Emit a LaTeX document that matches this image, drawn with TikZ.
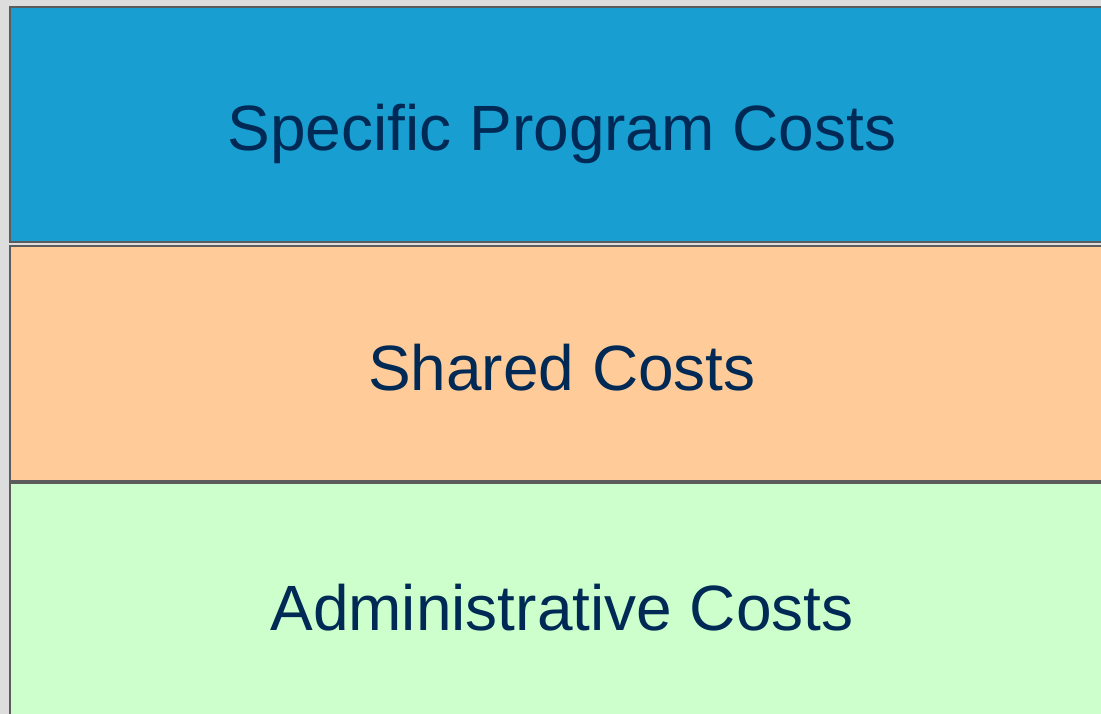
\documentclass[tikz,border=0pt]{standalone}
\usepackage{fontspec}
\setmainfont{Liberation Sans}
\definecolor{pagegrey}{HTML}{DDDDDD}
\definecolor{edgegrey}{HTML}{5C5C5C}
\definecolor{progblue}{HTML}{189ED0}
\definecolor{sharedorange}{HTML}{FFCC99}
\definecolor{adminggreen}{HTML}{CCFFCC}
\definecolor{labelnavy}{HTML}{002A55}

\tikzset{
  costband/.style={draw=edgegrey, line width=2.6pt, rectangle, inner sep=0pt,
    minimum width=1104pt, text=labelnavy, text height=53pt, text depth=0pt,
    font=\fontsize{64}{76}\selectfont}
}

\begin{document}
\begin{tikzpicture}[x=1pt,y=-1pt]
  \useasboundingbox (0,0) rectangle (1101,714);
  \fill[pagegrey] (0,0) rectangle (1101,714);
  % three stacked bands, right edge runs off the page
  \node[costband, fill=progblue, minimum height=235pt] (program) at (562,124.5) {Specific Program Costs};
  \node[costband, fill=sharedorange, minimum height=235.5pt] (shared) at (562,363.75) {Shared Costs};
  \node[costband, fill=adminggreen, minimum height=241pt] (admin) at (562,603.5) {Administrative Costs};
\end{tikzpicture}
\end{document}
